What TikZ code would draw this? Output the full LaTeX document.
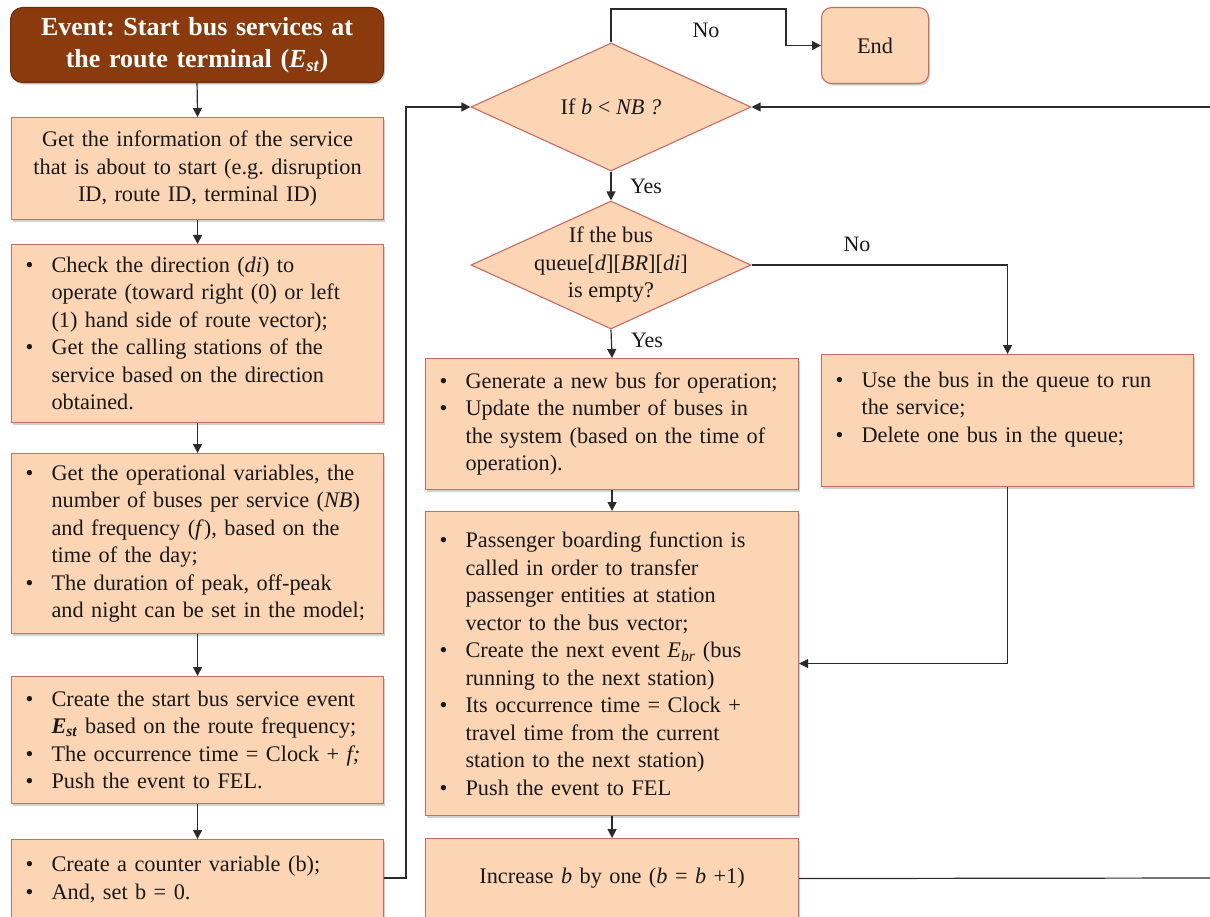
\documentclass[tikz,border=0pt]{standalone}
\usepackage{fontspec}
\setmainfont{Liberation Serif}
\usetikzlibrary{arrows.meta,shapes.geometric,shadows}
\definecolor{peach}{HTML}{FCD5B5}
\definecolor{peachborder}{HTML}{CB6A62}
\definecolor{brownev}{HTML}{8B3A0E}
\definecolor{brownborder}{HTML}{6E2C08}
\definecolor{linecol}{HTML}{2B2B2B}
\newcommand{\bl}[1]{\mbox{\makebox[26pt][l]{\textbullet}#1}}
\newcommand{\cl}[1]{\mbox{\hspace*{26pt}#1}}
\frenchspacing
\begin{document}
\begin{tikzpicture}[x=1pt,y=-1pt,
  every node/.style={font=\frenchspacing\fontsize{22.3}{27.5}\selectfont, text=black!90},
  pbox/.style={draw=peachborder, line width=1.1pt, fill=peach, anchor=north west,
    inner ysep=0pt, drop shadow={shadow xshift=1.5pt, shadow yshift=-2pt, opacity=0.3, fill=black!60}},
  bulletbox/.style={pbox, inner xsep=14pt, text width=#1, align=left},
  centerbox/.style={pbox, inner xsep=6pt, text width=#1, align=center},
  decision/.style={diamond, draw=peachborder, line width=1.1pt, fill=peach, inner sep=0pt,
    minimum width=280pt, minimum height=128pt},
  conn/.style={draw=linecol, line width=1.2pt, -{Triangle[length=9pt,width=9pt]}},
  plain/.style={draw=linecol, line width=1.2pt},
  lbl/.style={font=\fontsize{22}{26}\selectfont}
]
\useasboundingbox (0,0) rectangle (1210,917);
\clip (0,0) rectangle (1210,917);

% left column
\node[pbox, draw=brownborder, fill=brownev, rounded corners=12pt, minimum width=373pt, minimum height=75pt,
      text width=361pt, inner xsep=6pt, align=center, text=white,
      font=\frenchspacing\bfseries\fontsize{26}{32}\selectfont] (ev) at (10,7)
  {Event: Start bus services at\\the route terminal (\textit{E}\textsubscript{\textit{st}})};

\node[centerbox=360pt, minimum width=372pt, minimum height=102pt] (b1) at (11,117)
  {Get the information of the service\\that is about to start (e.g. disruption\\ID, route ID, terminal ID)};

\node[bulletbox=344pt, minimum width=372pt, minimum height=178pt] (b2) at (11,244)
  {\bl{Check the direction (\textit{di}) to}\\
   \cl{operate (toward right (0) or left}\\
   \cl{(1) hand side of route vector);}\\
   \bl{Get the calling stations of the}\\
   \cl{service based on the direction}\\
   \cl{obtained.}};

\node[bulletbox=344pt, minimum width=372pt, minimum height=180pt] (b3) at (11,453)
  {\bl{Get the operational variables, the}\\
   \cl{number of buses per service (\textit{NB})}\\
   \cl{and frequency (\textit{f}), based on the}\\
   \cl{time of the day;}\\
   \bl{The duration of peak, off-peak}\\
   \cl{and night can be set in the model;}};

\node[bulletbox=344pt, minimum width=372pt, minimum height=127pt] (b4) at (11,676)
  {\bl{Create the start bus service event}\\
   \cl{\textbf{\textit{E}\textsubscript{\textit{st}}} based on the route frequency;}\\
   \bl{The occurrence time = Clock + \textit{f;}}\\
   \bl{Push the event to FEL.}};

\node[bulletbox=344pt, minimum width=372pt, minimum height=80pt] (b5) at (11,839)
  {\bl{Create a counter variable (b);}\\
   \bl{And, set b = 0.}};

% decisions
\node[decision] (d1) at (611,107) {};
\node (d1t) at (d1.center) {If \textit{b} < \textit{NB ?}};
\node[decision] (d2) at (611,265) {};
\node[align=center] (d2t) at (d2.center) {If the bus\\queue[\textit{d}][\textit{BR}][\textit{di}]\\is empty?};

\node[pbox, rounded corners=10pt, minimum width=107pt, minimum height=76pt, text width=95pt,
      inner xsep=6pt, align=center] (endb) at (821,7) {End};

% middle and right
\node[bulletbox=345pt, minimum width=373pt, minimum height=131pt] (bA) at (425,358)
  {\bl{Generate a new bus for operation;}\\
   \bl{Update the number of buses in}\\
   \cl{the system (based on the time of}\\
   \cl{operation).}};

\node[bulletbox=344pt, minimum width=372pt, minimum height=132pt] (bB) at (821,354)
  {\bl{Use the bus in the queue to run}\\
   \cl{the service;}\\
   \bl{Delete one bus in the queue;}\\
   \mbox{}};

\node[bulletbox=345pt, minimum width=373pt, minimum height=304pt] (bC) at (425,511)
  {\bl{Passenger boarding function is}\\
   \cl{called in order to transfer}\\
   \cl{passenger entities at station}\\
   \cl{vector to the bus vector;}\\
   \bl{Create the next event \textit{E}\textsubscript{\textit{br}} (bus}\\
   \cl{running to the next station)}\\
   \bl{Its occurrence time = Clock +}\\
   \cl{travel time from the current}\\
   \cl{station to the next station)}\\
   \bl{Push the event to FEL}};

\node[centerbox=361pt, minimum width=373pt, minimum height=80pt] (bD) at (425,838)
  {Increase \textit{b} by one (\textit{b} = \textit{b} +1)};

% coordinates
\coordinate (c1) at (786,9);
\coordinate (c2) at (406,878);
\coordinate (r1) at (1212,878);
\coordinate (r2) at (1212,107);

% connectors
\draw[conn] (ev.south) -- (b1.north);
\draw[conn] (b1.south) -- (b2.north);
\draw[conn] (b2.south) -- (b3.north);
\draw[conn] (b3.south) -- (b4.north);
\draw[conn] (b4.south) -- (b5.north);
\draw[conn] (b5.east |- c2) -- (c2) |- (d1.west);
\draw[conn] (d1.north) |- (c1) |- (endb.west);
\draw[conn] (d1.south) -- (d2.north);
\draw[conn] (d2.east) -| (bB.north);
\draw[conn] (d2.south) -- (bA.north);
\draw[conn] (bA.south) -- (bC.north);
\draw[conn] (bB.south) |- (bC.east);
\draw[conn] (bC.south) -- (bD.north);
\draw[plain] (bD.east) -- (r1);
\draw[conn] (r2) -- (d1.east);

% labels
\node[lbl] (lno1) at (706,30) {No};
\node[lbl] (lyes1) at (646,186) {Yes};
\node[lbl] (lno2) at (857,244) {No};
\node[lbl] (lyes2) at (647,340) {Yes};
\end{tikzpicture}
\end{document}
